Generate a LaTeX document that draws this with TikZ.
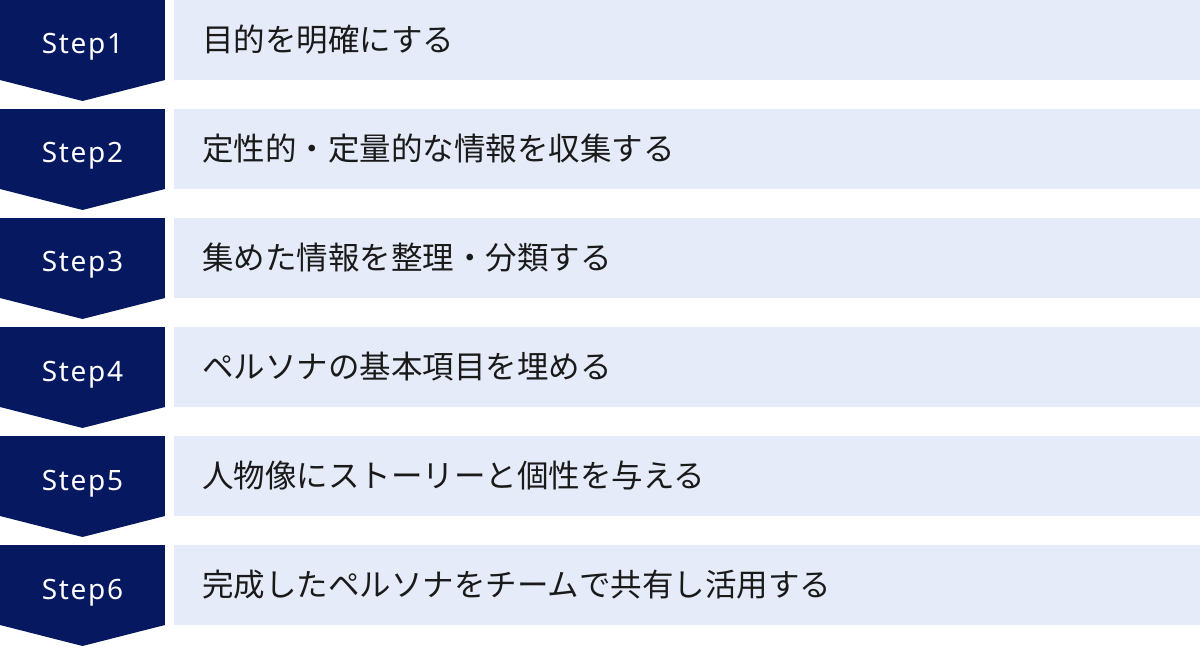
\documentclass[tikz,border=0pt]{standalone}
\usepackage{fontspec}
\usepackage{xcolor}
\usetikzlibrary{positioning, calc}
\newfontfamily\jpfont{Noto Sans CJK JP}
\newfontfamily\stepfont{Noto Sans}[LetterSpace=6]
\definecolor{step-navy}{RGB}{6,24,96}
\definecolor{step-pale}{RGB}{229,235,248}
\definecolor{step-ink}{RGB}{26,26,26}
\newcommand{\steptip}[1]{\fill[step-navy] (#1.south west) -- (#1.south east) -- ($(#1.south)+(0,-21)$) -- cycle;}

\begin{document}
\begin{tikzpicture}[
    x=1pt, y=1pt,
    node distance=29pt and 9pt,
    stepbox/.style={rectangle, fill=step-navy, minimum width=165pt, minimum height=80pt, inner sep=0pt, outer sep=0pt, text height=28pt, text depth=0pt, text=white, font=\stepfont\fontsize{28}{32}\selectfont},
    taskbox/.style={rectangle, fill=step-pale, text width=970pt, inner xsep=28pt, inner ysep=0pt, minimum height=80pt, outer sep=0pt, align=left, text=step-ink, font=\jpfont\fontsize{31.5}{36}\selectfont}
]
\useasboundingbox (0,0) rectangle (1200,-647);

% Step 1
\node[stepbox] (step1) at (82.5,-40) {Step1};
\node[taskbox, right=of step1] (task1) {目的を明確にする};
\steptip{step1}

% Step 2
\node[stepbox, below=of step1] (step2) {Step2};
\node[taskbox, right=of step2] (task2) {定性的・定量的な情報を収集する};
\steptip{step2}

% Step 3
\node[stepbox, below=of step2] (step3) {Step3};
\node[taskbox, right=of step3] (task3) {集めた情報を整理・分類する};
\steptip{step3}

% Step 4
\node[stepbox, below=of step3] (step4) {Step4};
\node[taskbox, right=of step4] (task4) {ペルソナの基本項目を埋める};
\steptip{step4}

% Step 5
\node[stepbox, below=of step4] (step5) {Step5};
\node[taskbox, right=of step5] (task5) {人物像にストーリーと個性を与える};
\steptip{step5}

% Step 6
\node[stepbox, below=of step5] (step6) {Step6};
\node[taskbox, right=of step6] (task6) {完成したペルソナをチームで共有し活用する};
\steptip{step6}

\end{tikzpicture}
\end{document}
